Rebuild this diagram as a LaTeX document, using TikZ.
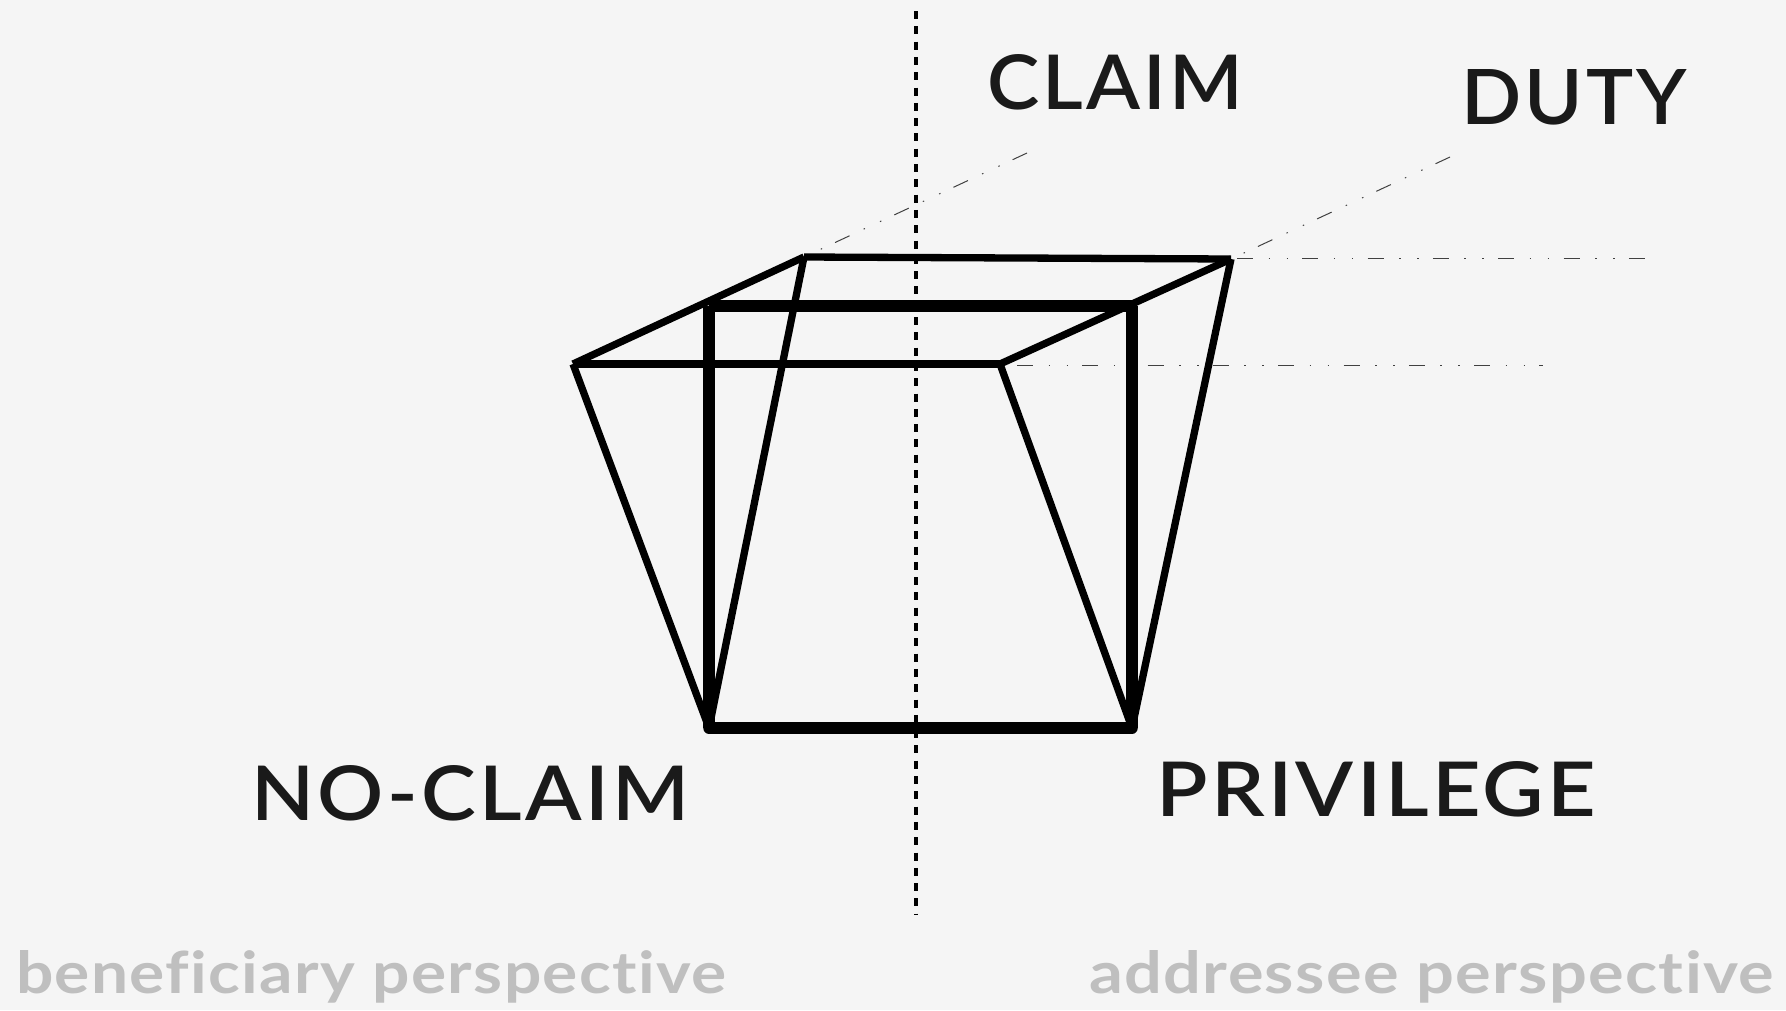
\documentclass[tikz,border=0pt]{standalone}
\usepackage{fontspec}
\usepackage{graphicx}
\setmainfont[LetterSpace=4,Ligatures=NoCommon]{Lato Semibold}
\newfontfamily\softface[LetterSpace=2,Ligatures=NoCommon]{Lato Bold}
\definecolor{bgc}{HTML}{F5F5F5}
\definecolor{inkc}{HTML}{1A1A1A}
\definecolor{softc}{HTML}{BFBFBF}
\newcommand{\capsfit}[3]{\resizebox{#1pt}{#2pt}{\fontsize{50}{50}\selectfont #3}}
\newcommand{\softfit}[2]{\resizebox{#1pt}{43pt}{\fontsize{50}{50}\softface #2}}
\tikzset{
  outerline/.style={line width=7.3pt,black,line cap=butt,line join=miter},
  innerline/.style={line width=11.5pt,black,line cap=round,line join=round},
  axisline/.style={line width=4pt,black,dash pattern=on 8pt off 7.3pt},
  thinline/.style={line width=1pt,black!75,dash pattern=on 16pt off 15.5pt on 1.5pt off 16.5pt on 1.5pt off 14.3pt},
  capslabel/.style={inkc,inner sep=0pt,anchor=base west},
  softlabel/.style={softc,inner sep=0pt,anchor=base west}
}
\begin{document}
\begin{tikzpicture}[x=1pt,y=-1pt]
\useasboundingbox[fill=bgc] (0,0) rectangle (1786,1010);
\coordinate (bl) at (804,257);
\coordinate (br) at (1231,259);
\coordinate (fl) at (573,364);
\coordinate (fr) at (1000,364);
\coordinate (sa) at (709,306);
\coordinate (sb) at (1132,306);
\coordinate (sc) at (1132,728);
\coordinate (sd) at (709,728);
\coordinate (axt) at (915.5,11);
\coordinate (axb) at (915.5,914);
\coordinate (e1) at (1027,153);
\coordinate (e2) at (1450,157);
\coordinate (e3) at (1645,258.5);
\coordinate (e4) at (1543,365);
\coordinate (brh) at (1231,258.5);
\coordinate (frh) at (1000,365);
\draw[axisline] (axt) -- (axb);
\draw[thinline,dash phase=31] (bl) -- (e1);
\draw[thinline,dash phase=35.6] (br) -- (e2);
\draw[thinline,dash phase=59.3] (brh) -- (e3);
\draw[thinline,dash phase=48.3] (frh) -- (e4);
\draw[outerline] (bl) -- (br);
\draw[outerline] (fl) -- (fr);
\draw[outerline] (fl) -- (bl);
\draw[outerline] (fr) -- (br);
\draw[outerline] (fl) -- (sd);
\draw[outerline] (fr) -- (sc);
\draw[outerline] (bl) -- (sd);
\draw[outerline] (br) -- (sc);
\draw[innerline,line cap=butt] (sa) -- (sb);
\draw[innerline,line cap=butt] (sb) -- (sc);
\draw[innerline] (sc) -- (sd);
\draw[innerline,line cap=butt] (sd) -- (sa);
\node[capslabel] (claim) at (987,109) {\capsfit{256}{55}{CLAIM}};
\node[capslabel] (duty) at (1461,124) {\capsfit{226}{55}{DUTY}};
\node[capslabel] (noclaim) at (251,820) {\capsfit{438}{55}{NO-CLAIM}};
\node[capslabel] (privilege) at (1156,816) {\capsfit{440}{55}{PRIVILEGE}};
\node[softlabel] (benef) at (16,993) {\softfit{710}{beneficiary perspective}};
\node[softlabel] (addr) at (1089,993) {\softfit{685}{addressee perspective}};
\end{tikzpicture}
\end{document}
